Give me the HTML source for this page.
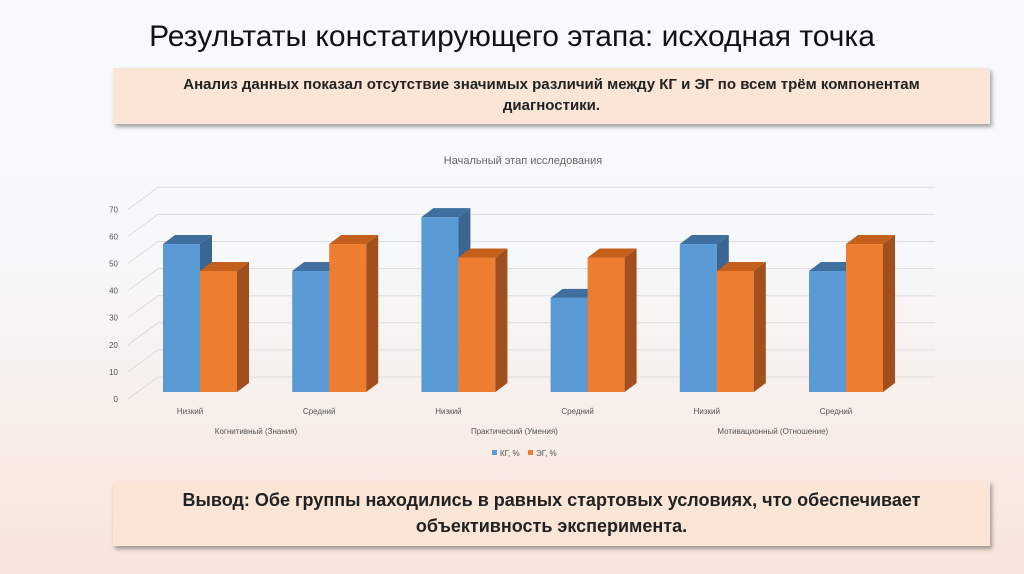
<!DOCTYPE html>
<html><head><meta charset="utf-8"><style>
body{margin:0;width:1024px;height:574px;overflow:hidden;font-family:"Liberation Sans","DejaVu Sans",sans-serif;background:linear-gradient(#f7fafd 0%,#f7f8f9 45%,#f8e4da 100%);position:relative}
.t{position:absolute;left:0;width:1024px;top:20px;text-align:center;font-size:30px;color:#111}
.box{position:absolute;left:113px;width:877px;background:#fbe5d6;box-shadow:2px 3px 4px rgba(0,0,0,.35);text-align:center;font-weight:bold;color:#222}
</style></head><body>
<div class="t">Результаты констатирующего этапа: исходная точка</div>
<div class="box" style="top:68px;height:56px;font-size:15px;line-height:21px;padding-top:6px;box-sizing:border-box">Анализ данных показал отсутствие значимых различий между КГ и ЭГ по всем трём компонентам<br>диагностики.</div>
<div class="box" style="top:481px;height:65px;font-size:18px;line-height:26px;padding-top:6px;box-sizing:border-box">Вывод: Обе группы находились в равных стартовых условиях, что обеспечивает<br>объективность эксперимента.</div>
<svg id="c" width="1024" height="574" style="position:absolute;left:0;top:0"></svg>
<script>
const cats=["Низкий","Средний","Низкий","Средний","Низкий","Средний"];
const groups=["Когнитивный (Знания)","Практический (Умения)","Мотивационный (Отношение)"];
const kg=[55,45,65,35,55,45];
const eg=[45,55,50,50,45,55];
const ticks=[0,10,20,30,40,50,60,70];
const NS="http://www.w3.org/2000/svg",svg=document.getElementById('c');
function mk(t,a,p){const e=document.createElementNS(NS,t);for(const k in a)e.setAttribute(k,a[k]);(p||svg).appendChild(e);return e;}
const yF=v=>392-v*2.69, yB=v=>377-v*2.71, xs=i=>163+i*129.2;
const tt=mk('text',{x:523,y:164,'text-anchor':'middle','font-size':11,fill:'#666'});tt.textContent="Начальный этап исследования";


ticks.forEach(v=>{const y=yB(v);
const l=mk('path',{d:`M935 ${y}H158L128 ${y+22}`,stroke:'#dcdcdc',fill:'none','stroke-width':1});


const t=mk('text',{x:118,y:y+25,'text-anchor':'end','font-size':8,fill:'#555'});t.textContent=v;

});
function bar(x,v,f,top,side,n){const y=yF(v),w=37,dx=12,dy=9;
const g=mk('g',{});
mk('rect',{x:x,y:y,width:w,height:392-y,fill:f},g);
mk('polygon',{points:`${x},${y} ${x+dx},${y-dy} ${x+w+dx},${y-dy} ${x+w},${y}`,fill:top},g);
mk('polygon',{points:`${x+w},${y} ${x+w+dx},${y-dy} ${x+w+dx},${392-dy} ${x+w},392`,fill:side},g);}
cats.forEach((c,i)=>{const x=xs(i);
bar(x,kg[i],'#5b9bd5','#3e6f9e','#3a6691','bar-kg');
bar(x+37,eg[i],'#ed7d31','#c55f1c','#a14f1c','bar-eg');
const t=mk('text',{x:x+27,y:414,'text-anchor':'middle','font-size':8,fill:'#555'});t.textContent=c;

});
groups.forEach((g,i)=>{const t=mk('text',{x:xs(2*i)+93,y:434,'text-anchor':'middle','font-size':8,fill:'#555'});t.textContent=g;

});
[['КГ, %','#5b9bd5',492],['ЭГ, %','#ed7d31',528]].forEach(([n,c,x])=>{
const g=mk('g',{});
mk('rect',{x:x,y:450,width:5,height:5,fill:c},g);
const t=mk('text',{x:x+8,y:456,'font-size':8,fill:'#555'},g);t.textContent=n;});
</script>
</body></html>
